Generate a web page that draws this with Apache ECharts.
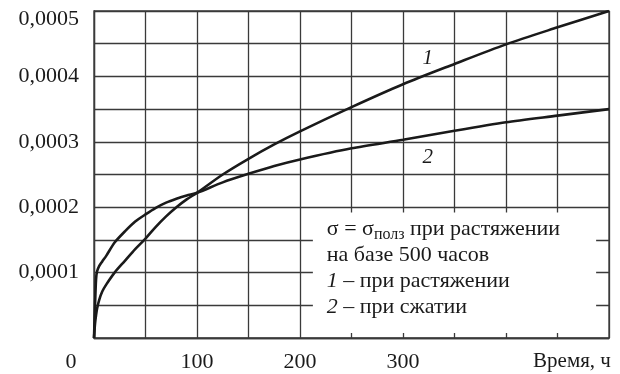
<!DOCTYPE html>
<html>
<head>
<meta charset="utf-8">
<script src="https://cdn.jsdelivr.net/npm/echarts@6/dist/echarts.min.js"></script>
<style>
  html, body { margin: 0; padding: 0; background: #fff; }
  #chart { width: 620px; height: 374px; }
</style>
</head>
<body>
<div id="chart"></div>
<script>
// Деформация ползучести во времени
const hours = [0, 1, 2, 3, 5, 8, 12, 20, 30, 40, 50, 60, 70, 80, 90, 100, 125, 150, 175, 200, 250, 300, 350, 400, 450, 500];
// 1 – при растяжении
const tension = [0, 0.000022, 0.000035, 0.000045, 0.000058, 0.000071, 0.000082, 0.0001, 0.000118, 0.000136, 0.000152, 0.000170, 0.000186, 0.0002, 0.000212, 0.000222, 0.000250, 0.000274, 0.000296, 0.000316, 0.000353, 0.000388, 0.000419, 0.000449, 0.000475, 0.0005];
// 2 – при сжатии
const compression = [0, 0.00005, 0.00009, 0.000102, 0.000110, 0.000117, 0.000126, 0.000146, 0.000163, 0.000178, 0.000189, 0.000199, 0.000207, 0.000213, 0.000218, 0.000222, 0.000238, 0.000251, 0.000263, 0.000273, 0.00029, 0.000303, 0.000317, 0.00033, 0.00034, 0.00035];

const xTickLabels = { 0: '0', 100: '100', 200: '200', 300: '300', 500: 'Время, ч' };
const yTickLabels = { 0.0001: '0,0001', 0.0002: '0,0002', 0.0003: '0,0003', 0.0004: '0,0004', 0.0005: '0,0005' };

const legendLines = [
  '{t|σ = σ}{sub|полз}{t| при растяжении}',
  '{t|на базе 500 часов}',
  '{i|1}{t| – при растяжении}',
  '{i|2}{t| – при сжатии}'
];

const FONT = '"Liberation Serif", "Times New Roman", serif';
const INK = '#1a1a1a';
const GRIDC = '#3a3a3a';

function pairs(xs, ys) { return xs.map((x, i) => [x, ys[i]]); }
function yKey(v) { return Math.round(v * 1e5) / 1e5; }

const chart = echarts.init(document.getElementById('chart'), null, { renderer: 'canvas' });

chart.setOption({
  animation: false,
  backgroundColor: '#fff',
  grid: { left: 94, right: 11, top: 11, bottom: 36, show: true, borderColor: GRIDC, borderWidth: 1.3 },
  xAxis: {
    type: 'value', min: 0, max: 500, interval: 50,
    axisLine: { show: true, lineStyle: { color: GRIDC, width: 1.3 } },
    axisTick: { show: false },
    splitLine: { show: true, lineStyle: { color: GRIDC, width: 1.3 } },
    axisLabel: {
      margin: 13,
      showMinLabel: true, showMaxLabel: true,
      formatter: v => {
        const s = xTickLabels[v];
        if (s === undefined) return '';
        if (v === 0) return '{z|' + s + '}';
        if (v === 500) return '{n|' + s + '}';
        return s;
      },
      color: INK, fontFamily: FONT, fontSize: 22,
      rich: {
        z: { fontFamily: FONT, fontSize: 22, color: INK, padding: [0, 46, 0, 0] },
        n: { fontFamily: FONT, fontSize: 21, color: INK, padding: [0, 74, 0, 0] }
      }
    }
  },
  yAxis: {
    type: 'value', min: 0, max: 0.0005, interval: 0.00005,
    axisLine: { show: true, lineStyle: { color: GRIDC, width: 1.3 } },
    axisTick: { show: false },
    splitLine: { show: true, lineStyle: { color: GRIDC, width: 1.3 } },
    axisLabel: {
      margin: 15,
      showMaxLabel: true,
      formatter: v => {
        const s = yTickLabels[yKey(v)];
        if (s === undefined) return '';
        if (yKey(v) === 0.0005) return '{top|' + s + '}';
        return s;
      },
      color: INK, fontFamily: FONT, fontSize: 22,
      rich: {
        top: { fontFamily: FONT, fontSize: 22, color: INK, padding: [16, 0, 0, 0] }
      }
    }
  },
  series: [
    {
      name: '1', type: 'line', data: pairs(hours, tension),
      showSymbol: false, smooth: 0.3, z: 5,
      lineStyle: { color: INK, width: 2.6 },
      markPoint: {
        symbol: 'circle', symbolSize: 0,
        label: { show: true, formatter: '1', color: INK, fontFamily: FONT, fontSize: 21, fontStyle: 'italic' },
        data: [{ coord: [324, 0.000427] }]
      },
      // white panel for the legend block, grid stubs remain at its edges
      markArea: {
        silent: true,
        itemStyle: { color: '#fff' },
        data: [[{ coord: [212.5, 0.0000075] }, { coord: [487.5, 0.000192] }]]
      }
    },
    {
      name: '2', type: 'line', data: pairs(hours, compression),
      showSymbol: false, smooth: 0.25, z: 5,
      lineStyle: { color: INK, width: 2.6 },
      markPoint: {
        symbol: 'circle', symbolSize: 0,
        label: { show: true, formatter: '2', color: INK, fontFamily: FONT, fontSize: 21, fontStyle: 'italic' },
        data: [{ coord: [324, 0.000276] }]
      }
    }
  ]
});

// legend text block placed by data coordinates
const origin = chart.convertToPixel({ gridIndex: 0 }, [226, 0.000183]);
chart.setOption({
  graphic: [{
    type: 'text', left: origin[0], top: origin[1], z: 100,
    style: {
      text: legendLines.join('\n'),
      fill: INK,
      rich: {
        t: { fontFamily: FONT, fontSize: 22, lineHeight: 26, fill: INK },
        i: { fontFamily: FONT, fontSize: 22, lineHeight: 26, fill: INK, fontStyle: 'italic' },
        sub: { fontFamily: FONT, fontSize: 16, lineHeight: 14, fill: INK, verticalAlign: 'bottom' }
      }
    }
  }]
});
</script>
</body>
</html>
